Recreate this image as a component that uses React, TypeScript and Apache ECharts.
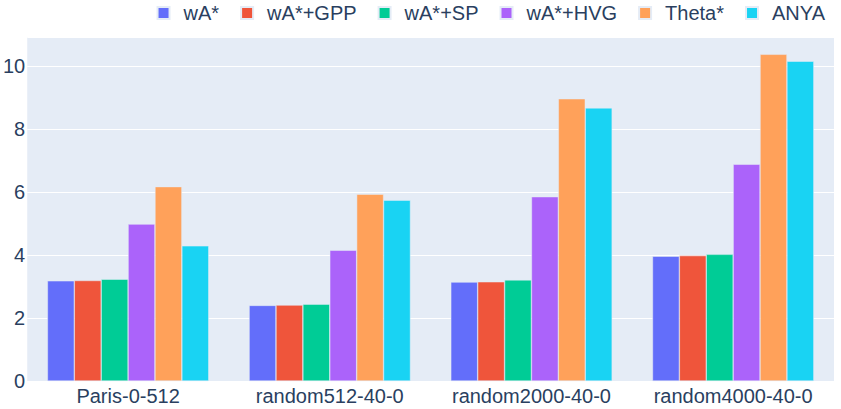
import React, { useEffect, useRef } from "react";
import * as echarts from "echarts";

const categories = ["Paris-0-512", "random512-40-0", "random2000-40-0", "random4000-40-0"];
const seriesNames = ["wA*", "wA*+GPP", "wA*+SP", "wA*+HVG", "Theta*", "ANYA"];
const wA = [3.18, 2.4, 3.14, 3.96];
const wAGPP = [3.19, 2.41, 3.15, 3.98];
const wASP = [3.23, 2.44, 3.21, 4.02];
const wAHVG = [4.98, 4.15, 5.85, 6.88];
const theta = [6.17, 5.93, 8.96, 10.37];
const anya = [4.29, 5.74, 8.67, 10.15];
const seriesValues = [wA, wAGPP, wASP, wAHVG, theta, anya];
const colors = ["#636efa", "#EF553B", "#00cc96", "#ab63fa", "#FFA15A", "#19d3f3"];
const yTicks = [0, 2, 4, 6, 8, 10];

const FONT = "'Liberation Sans', Arial, sans-serif";

export default function App() {
  const ref = useRef<HTMLDivElement>(null);
  useEffect(() => {
    document.body.style.margin = "0";
    if (!ref.current) return;
    const chart = echarts.init(ref.current, null, { renderer: "svg" });
    chart.setOption({
      animation: false,
      textStyle: { fontFamily: FONT },
      legend: {
        top: -2,
        right: 11,
        icon: "rect",
        itemWidth: 12,
        itemHeight: 12,
        itemGap: 21,
        textStyle: { fontFamily: FONT, fontSize: 20, color: "#2a3f5f", padding: [0, 0, 0, 9] },
        data: seriesNames,
      },
      grid: {
        left: 27,
        right: 7,
        top: 37,
        bottom: 28,
        show: true,
        backgroundColor: "#E5ECF6",
        borderWidth: 0,
      },
      xAxis: {
        type: "category",
        data: categories,
        axisLine: { show: false },
        axisTick: { show: false },
        axisLabel: { fontFamily: FONT, fontSize: 20, color: "#2a3f5f", margin: 5, interval: 0, hideOverlap: false },
      },
      yAxis: {
        type: "value",
        min: 0,
        max: 10.92,
        interval: 2,
        axisLine: { show: false },
        axisTick: { show: false },
        axisLabel: {
          fontFamily: FONT,
          fontSize: 20,
          color: "#2a3f5f",
          margin: 2,
          showMaxLabel: false,
          formatter: (v: number) => (yTicks.includes(v) ? String(v) : ""),
        },
        splitLine: { lineStyle: { color: "#ffffff", width: 1 } },
      },
      series: seriesValues.map((vals, i) => ({
        name: seriesNames[i],
        type: "bar",
        data: vals,
        barGap: "0%",
        barCategoryGap: "20%",
        itemStyle: { color: colors[i], borderColor: "#E5ECF6", borderWidth: 0.5 },
      })),
    });
    return () => chart.dispose();
  }, []);
  return <div ref={ref} style={{ width: 841, height: 409 }} />;
}
